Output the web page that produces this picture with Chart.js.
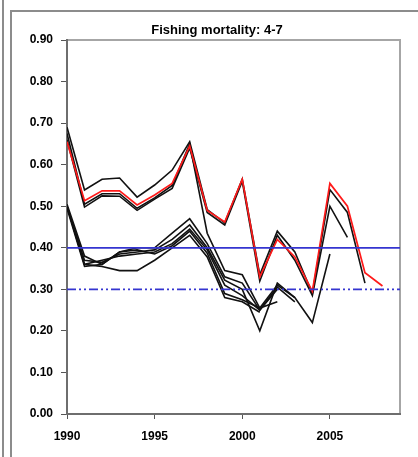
<!DOCTYPE html>
<html>
<head>
<meta charset="utf-8">
<script src="https://cdn.jsdelivr.net/npm/chart.js@4.4.0/dist/chart.umd.min.js"></script>
<style>
html,body{margin:0;padding:0;background:#fff;}
#wrap{position:relative;width:418px;height:457px;}
canvas{display:block;}
</style>
</head>
<body>
<div id="wrap"><canvas id="c" width="418" height="457"></canvas></div>
<script>
const title = "Fishing mortality: 4-7";
const startYear = 1990;
const xTicks = [1990, 1995, 2000, 2005];
const yTicks = [0, 0.1, 0.2, 0.3, 0.4, 0.5, 0.6, 0.7, 0.8, 0.9];

// Latest assessment (red), 1990-2008
const red = [0.655,0.513,0.537,0.537,0.503,0.527,0.555,0.645,0.49,0.462,0.565,0.33,0.42,0.378,0.295,0.555,0.50,0.34,0.308];
// Retrospective runs (black), each starting 1990
const retroA = [0.69,0.539,0.565,0.568,0.522,0.551,0.587,0.655,0.492,0.46,0.565,0.335,0.44,0.39,0.29,0.54,0.485,0.315];
const retroB = [0.66,0.498,0.525,0.524,0.49,0.517,0.543,0.64,0.485,0.455,0.56,0.32,0.43,0.37,0.285,0.50,0.425];
const retroC = [0.675,0.505,0.53,0.53,0.495,0.52,0.55,0.65,0.435,0.345,0.335,0.255,0.31,0.28,0.22,0.385];
const retroD = [0.505,0.38,0.36,0.39,0.40,0.40,0.435,0.47,0.41,0.33,0.315,0.25,0.305,0.27];
const retroE = [0.50,0.37,0.365,0.385,0.39,0.395,0.42,0.455,0.40,0.322,0.30,0.20,0.315,0.28];
const retroF = [0.50,0.36,0.37,0.38,0.385,0.39,0.41,0.445,0.395,0.31,0.285,0.25,0.30];
const retroG = [0.495,0.355,0.36,0.39,0.395,0.385,0.405,0.44,0.387,0.29,0.275,0.255,0.27];
const retroH = [0.50,0.36,0.355,0.345,0.345,0.37,0.40,0.43,0.378,0.28,0.27,0.245];
const refLimit = 0.40;   // solid blue
const refPa = 0.30;      // dash-dot blue
const xMin = 1990, xMax = 2009;

const toPts = arr => arr.map((v,i)=>({x:startYear+i, y:v}));
const blacks = [retroA, retroB, retroC, retroD, retroE, retroF, retroG, retroH];

const datasets = [
  {data:[{x:xMin,y:refLimit},{x:xMax,y:refLimit}], borderColor:'#3535d0', borderWidth:1.8},
  {data:[{x:xMin,y:refPa},{x:xMax,y:refPa}], borderColor:'#3535d0', borderWidth:1.8, borderDash:[9,3,2,3,2,3]},
  {data:toPts(red), borderColor:'#ff1a1a', borderWidth:1.7}
].concat(blacks.map(b=>({data:toPts(b), borderColor:'#111111', borderWidth:1.6})));

const FONT = "'Liberation Sans', Arial, sans-serif";

const framePlugin = {
  id:'frame',
  beforeDraw(chart){
    const c = chart.ctx;
    c.save();
    c.fillStyle='#fff';
    c.fillRect(0,0,chart.width,chart.height);
    c.strokeStyle='#8c8c8c';
    c.lineWidth=2;
    c.beginPath();
    c.moveTo(3,0); c.lineTo(3,457);
    c.moveTo(11,457); c.lineTo(11,11); c.lineTo(418,11);
    c.stroke();
    // plot frame (top/right)
    const a = chart.chartArea;
    c.strokeStyle='#a6a6a6';
    c.lineWidth=2;
    c.beginPath();
    c.moveTo(a.left,a.top); c.lineTo(a.right,a.top); c.lineTo(a.right,a.bottom);
    c.stroke();
    c.fillStyle='#000';
    c.font='bold 13px '+FONT;
    c.textAlign='center';
    c.textBaseline='middle';
    c.fillText(title,217,30);
    c.restore();
  }
};

new Chart(document.getElementById('c'), {
  type:'line',
  data:{datasets},
  plugins:[framePlugin],
  options:{
    responsive:false,
    animation:false,
    events:[],
    layout:{padding:{left:0,right:18,top:40,bottom:0}},
    elements:{point:{radius:0}, line:{tension:0, fill:false}},
    plugins:{legend:{display:false}, tooltip:{enabled:false}, title:{display:false}},
    scales:{
      x:{
        type:'linear', min:xMin, max:xMax,
        afterFit(s){ s.height = 43; },
        afterBuildTicks(s){ s.ticks = xTicks.map(v=>({value:v})); },
        border:{display:true, color:'#6e6e6e', width:2},
        grid:{display:true, drawOnChartArea:false, drawTicks:true, tickLength:5, color:'#555', lineWidth:1},
        ticks:{padding:10, color:'#000', font:{family:FONT, size:12, weight:'bold'}, callback:v=>String(v), maxRotation:0, autoSkip:false}
      },
      y:{
        type:'linear', min:0, max:0.9,
        afterFit(s){ s.width = 67; },
        afterBuildTicks(s){ s.ticks = yTicks.map(v=>({value:v})); },
        border:{display:true, color:'#6e6e6e', width:2},
        grid:{display:true, drawOnChartArea:false, drawTicks:true, tickLength:6, color:'#555', lineWidth:1},
        ticks:{padding:8, color:'#000', font:{family:FONT, size:12, weight:'bold'}, callback:v=>Number(v).toFixed(2), autoSkip:false}
      }
    }
  }
});
</script>
</body>
</html>
